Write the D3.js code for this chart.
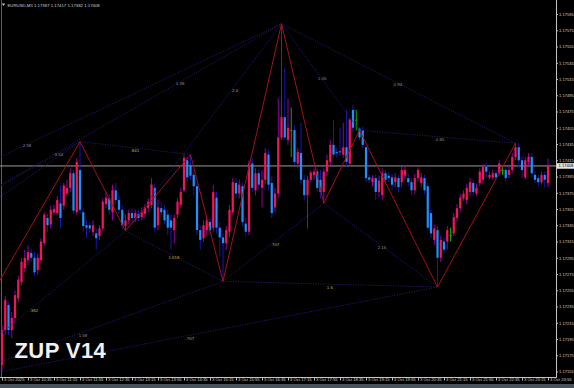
<!DOCTYPE html>
<html>
<head>
<meta charset="utf-8">
<script src="https://cdn.jsdelivr.net/npm/d3@7"></script>
<style>
  html, body { margin: 0; padding: 0; background: #000; overflow: hidden; }
</style>
</head>
<body>
<div id="chart"></div>
<script>
const width = 574;
const height = 388;

// EURUSD M5, 3 Oct 2025 09:55 .. 23:55 (bar index 0..168)
const opens = [
  1.17163,1.17206,1.17237,1.17206,1.17221,1.17245,1.17265,1.17282,1.17292,1.17301,
  1.17295,1.17280,1.17292,1.17313,1.17344,1.17336,1.17351,1.17350,1.17362,1.17359,
  1.17374,1.17381,1.17399,1.17351,1.17403,1.17351,1.17335,1.17335,1.17327,1.17325,
  1.17322,1.17331,1.17361,1.17368,1.17351,1.17378,1.17366,1.17354,1.17334,1.17341,
  1.17350,1.17344,1.17349,1.17345,1.17349,1.17356,1.17360,1.17381,1.17335,1.17356,
  1.17354,1.17348,1.17341,1.17329,1.17348,1.17360,1.17378,1.17415,1.17409,1.17397,
  1.17383,1.17329,1.17319,1.17329,1.17339,1.17332,1.17369,1.17332,1.17320,1.17313,
  1.17327,1.17351,1.17387,1.17374,1.17383,1.17337,1.17327,1.17411,1.17378,1.17399,
  1.17381,1.17391,1.17422,1.17387,1.17357,1.17374,1.17443,1.17468,1.17440,1.17452,
  1.17452,1.17411,1.17424,1.17391,1.17372,1.17391,1.17397,1.17401,1.17391,1.17376,
  1.17401,1.17413,1.17434,1.17425,1.17426,1.17422,1.17431,1.17411,1.17477,1.17465,
  1.17454,1.17452,1.17431,1.17394,1.17388,1.17393,1.17376,1.17372,1.17399,1.17396,
  1.17394,1.17388,1.17393,1.17388,1.17396,1.17393,1.17388,1.17378,1.17393,1.17387,
  1.17393,1.17383,1.17350,1.17317,1.17329,1.17295,1.17315,1.17315,1.17323,1.17325,
  1.17344,1.17356,1.17368,1.17366,1.17376,1.17387,1.17374,1.17387,1.17391,1.17407,
  1.17394,1.17394,1.17399,1.17399,1.17403,1.17403,1.17397,1.17403,1.17419,1.17431,
  1.17415,1.17394,1.17413,1.17419,1.17397,1.17393,1.17388,1.17397,1.17387
];
const highs = [
  1.17212,1.17248,1.17241,1.17228,1.17255,1.17273,1.17295,1.17305,1.17310,1.17306,
  1.17302,1.17300,1.17319,1.17351,1.17349,1.17359,1.17360,1.17371,1.17384,1.17387,
  1.17391,1.17405,1.17403,1.17418,1.17438,1.17356,1.17341,1.17339,1.17341,1.17331,
  1.17335,1.17368,1.17376,1.17373,1.17385,1.17387,1.17371,1.17359,1.17348,1.17354,
  1.17356,1.17354,1.17354,1.17357,1.17361,1.17368,1.17393,1.17386,1.17366,1.17364,
  1.17360,1.17354,1.17348,1.17348,1.17368,1.17381,1.17422,1.17419,1.17422,1.17403,
  1.17386,1.17334,1.17341,1.17348,1.17344,1.17385,1.17376,1.17339,1.17325,1.17334,
  1.17360,1.17393,1.17393,1.17391,1.17387,1.17344,1.17415,1.17418,1.17405,1.17403,
  1.17403,1.17430,1.17428,1.17396,1.17381,1.17491,1.17583,1.17529,1.17491,1.17480,
  1.17458,1.17430,1.17461,1.17397,1.17396,1.17403,1.17405,1.17405,1.17403,1.17405,
  1.17422,1.17440,1.17465,1.17430,1.17455,1.17461,1.17477,1.17467,1.17483,1.17477,
  1.17456,1.17456,1.17434,1.17397,1.17397,1.17397,1.17396,1.17405,1.17403,1.17401,
  1.17398,1.17399,1.17397,1.17408,1.17409,1.17398,1.17393,1.17398,1.17406,1.17399,
  1.17397,1.17387,1.17354,1.17336,1.17334,1.17322,1.17320,1.17334,1.17332,1.17350,
  1.17361,1.17374,1.17378,1.17386,1.17393,1.17391,1.17386,1.17405,1.17410,1.17412,
  1.17401,1.17403,1.17403,1.17415,1.17407,1.17407,1.17407,1.17424,1.17436,1.17436,
  1.17420,1.17419,1.17424,1.17424,1.17401,1.17397,1.17401,1.17401,1.17417
];
const lows = [
  1.17155,1.17200,1.17200,1.17196,1.17215,1.17240,1.17261,1.17277,1.17286,1.17290,
  1.17273,1.17274,1.17287,1.17310,1.17327,1.17331,1.17347,1.17347,1.17332,1.17354,
  1.17371,1.17376,1.17349,1.17348,1.17349,1.17327,1.17319,1.17327,1.17322,1.17305,
  1.17317,1.17328,1.17356,1.17348,1.17341,1.17360,1.17349,1.17331,1.17328,1.17336,
  1.17339,1.17339,1.17340,1.17341,1.17344,1.17351,1.17356,1.17327,1.17329,1.17347,
  1.17336,1.17323,1.17305,1.17313,1.17344,1.17356,1.17376,1.17388,1.17391,1.17372,
  1.17323,1.17305,1.17315,1.17323,1.17322,1.17327,1.17325,1.17296,1.17266,1.17305,
  1.17320,1.17348,1.17368,1.17368,1.17334,1.17322,1.17323,1.17376,1.17372,1.17378,
  1.17357,1.17386,1.17378,1.17344,1.17351,1.17369,1.17440,1.17440,1.17434,1.17419,
  1.17409,1.17405,1.17385,1.17366,1.17331,1.17388,1.17391,1.17376,1.17368,1.17362,
  1.17396,1.17409,1.17418,1.17418,1.17420,1.17418,1.17408,1.17408,1.17450,1.17452,
  1.17440,1.17430,1.17388,1.17387,1.17383,1.17366,1.17370,1.17366,1.17385,1.17388,
  1.17378,1.17382,1.17376,1.17382,1.17391,1.17383,1.17372,1.17373,1.17388,1.17382,
  1.17373,1.17329,1.17319,1.17311,1.17259,1.17290,1.17300,1.17305,1.17315,1.17322,
  1.17339,1.17351,1.17365,1.17361,1.17371,1.17371,1.17371,1.17383,1.17386,1.17393,
  1.17391,1.17391,1.17391,1.17396,1.17397,1.17388,1.17393,1.17399,1.17415,1.17405,
  1.17393,1.17391,1.17409,1.17394,1.17387,1.17383,1.17385,1.17382,1.17382
];
const closes = [
  1.17206,1.17243,1.17206,1.17221,1.17249,1.17268,1.17290,1.17295,1.17302,1.17295,
  1.17277,1.17295,1.17315,1.17348,1.17335,1.17354,1.17355,1.17366,1.17344,1.17384,
  1.17381,1.17399,1.17353,1.17413,1.17354,1.17334,1.17332,1.17331,1.17335,1.17319,
  1.17331,1.17364,1.17369,1.17354,1.17378,1.17366,1.17354,1.17335,1.17341,1.17350,
  1.17344,1.17350,1.17344,1.17351,1.17357,1.17364,1.17385,1.17332,1.17357,1.17351,
  1.17341,1.17332,1.17332,1.17344,1.17364,1.17376,1.17418,1.17394,1.17396,1.17383,
  1.17329,1.17317,1.17335,1.17341,1.17329,1.17376,1.17332,1.17320,1.17313,1.17329,
  1.17354,1.17388,1.17374,1.17385,1.17339,1.17327,1.17411,1.17381,1.17399,1.17385,
  1.17391,1.17424,1.17385,1.17350,1.17374,1.17443,1.17468,1.17443,1.17455,1.17452,
  1.17413,1.17425,1.17391,1.17372,1.17391,1.17400,1.17401,1.17381,1.17376,1.17401,
  1.17415,1.17434,1.17422,1.17424,1.17425,1.17431,1.17413,1.17465,1.17455,1.17465,
  1.17443,1.17434,1.17393,1.17391,1.17393,1.17376,1.17390,1.17399,1.17391,1.17393,
  1.17385,1.17394,1.17382,1.17403,1.17403,1.17388,1.17378,1.17393,1.17403,1.17394,
  1.17378,1.17332,1.17325,1.17331,1.17295,1.17317,1.17305,1.17329,1.17323,1.17345,
  1.17356,1.17369,1.17374,1.17381,1.17388,1.17376,1.17381,1.17401,1.17407,1.17401,
  1.17397,1.17399,1.17394,1.17411,1.17403,1.17393,1.17403,1.17419,1.17431,1.17415,
  1.17403,1.17415,1.17419,1.17399,1.17391,1.17388,1.17397,1.17391,1.17408
];

const priceTicks = [1.17155,1.17175,1.17195,1.17215,1.17235,1.17255,1.17275,1.17295,
  1.17315,1.17335,1.17355,1.17375,1.17395,1.17415,1.17435,1.17455,1.17475,1.17495,
  1.17515,1.17535,1.17555,1.17575,1.17595];
const timeIdx = [0,8,16,24,32,40,48,56,64,72,80,88,96,104,112,120,128,136,144,152,160,168];
const timeLabels = ["3 Oct 2025","3 Oct 10:35","3 Oct 11:15","3 Oct 11:55","3 Oct 12:35",
  "3 Oct 13:15","3 Oct 13:55","3 Oct 14:35","3 Oct 15:15","3 Oct 15:55","3 Oct 16:35",
  "3 Oct 17:15","3 Oct 17:55","3 Oct 18:35","3 Oct 19:15","3 Oct 19:55","3 Oct 20:35",
  "3 Oct 21:15","3 Oct 21:55","3 Oct 22:35","3 Oct 23:15","3 Oct 23:55"];

// ZUP pivots (P*) and earlier off-screen anchors (A*)
const pivotNames = ["P0","P1","P2","P3","P4","P5","P6","P7","P8","P9","A1","A2","A3"];
const pivotIdx = [-19, 24, 38, 58, 68, 86, 99, 110, 134, 158, -19, -19, -19];
const pivotPrice = [1.17140,1.17438,1.17328,1.17422,1.17266,1.17583,1.17362,1.17452,1.17259,1.17436,
  1.17384,1.17342,1.17319];
const zigzag = ["P0","P1","P2","P3","P4","P5","P6","P7","P8","P9"];
const patternLines = [["P0","P2"],["P0","P4"],["P0","P8"],["P1","P3"],["P2","P4"],["P4","P6"],
  ["P4","P8"],["P6","P8"],["P5","P7"],["P5","P9"],["P5","P2"],["P7","P9"],
  ["A1","P5"],["A2","P5"],["A2","P1"],["A3","P1"]];

const ratioText = ["2.58","3.54",".841","1.38","2.0","1.05","0.94","0.85",".382","1.618",".707","2.15","1.6","1.58",".707"];
const ratioIdx = [7.7,17.5,40.9,54.8,71.7,98.5,121.8,134.8,9.8,52.9,84,116.9,100.9,24.9,57.8];
const ratioPrice = [1.17433,1.17422,1.17427,1.17509,1.17501,1.17516,1.17508,1.17441,1.17230,1.17295,
  1.17311,1.17308,1.17259,1.17199,1.17196];
const ratioFib = [false,false,true,false,true,false,false,false,true,true,true,false,true,false,true];

const lastPrice = 1.17408;

const font = "'Liberation Sans', Arial, sans-serif";
const x = d3.scaleLinear().domain([0, 168]).range([2, 548]);
const y = d3.scaleLinear().domain([1.17155, 1.17595]).range([371.5, 14]);
const plotRight = 556, plotBottom = 377;

const svg = d3.select("#chart").append("svg")
    .attr("width", width)
    .attr("height", height)
    .style("display", "block")
    .style("background", "#000")
    .style("font-family", font);

svg.append("defs").append("clipPath").attr("id", "plot")
    .append("rect").attr("x", 0).attr("y", 0).attr("width", plotRight).attr("height", plotBottom);

const plot = svg.append("g").attr("clip-path", "url(#plot)");

// left border
plot.append("line")
    .attr("x1", 1.5).attr("x2", 1.5).attr("y1", 0).attr("y2", plotBottom)
    .attr("stroke", "#5e5e5e");

// current price line
plot.append("line")
    .attr("x1", 0).attr("x2", plotRight)
    .attr("y1", y(lastPrice)).attr("y2", y(lastPrice))
    .attr("stroke", "#9c9c9c").attr("stroke-width", 1);

// candles
const bars = d3.range(closes.length);
const colorOf = i => closes[i] > opens[i] ? "bull" : closes[i] < opens[i] ? "bear" : "doji";
const wickColor = { bull: "#9000a0", bear: "#1616b0", doji: "#00b000" };
const bodyColor = { bull: "#f5135c", bear: "#1e90ff", doji: "#00b000" };

plot.append("g").selectAll("line")
    .data(bars)
    .join("line")
    .attr("x1", i => x(i)).attr("x2", i => x(i))
    .attr("y1", i => y(highs[i])).attr("y2", i => y(lows[i]))
    .attr("stroke", i => wickColor[colorOf(i)])
    .attr("stroke-width", 1);

plot.append("g").selectAll("rect")
    .data(bars)
    .join("rect")
    .attr("x", i => x(i) - 1.1)
    .attr("width", 2.2)
    .attr("y", i => y(Math.max(opens[i], closes[i])))
    .attr("height", i => Math.max(1, Math.abs(y(opens[i]) - y(closes[i]))))
    .attr("fill", i => bodyColor[colorOf(i)]);

// ZUP pattern lines
const pt = name => {
    const k = pivotNames.indexOf(name);
    return [x(pivotIdx[k]), y(pivotPrice[k])];
};

plot.append("g").selectAll("line")
    .data(patternLines)
    .join("line")
    .attr("x1", d => pt(d[0])[0]).attr("y1", d => pt(d[0])[1])
    .attr("x2", d => pt(d[1])[0]).attr("y2", d => pt(d[1])[1])
    .attr("stroke", "#1c1c6a")
    .attr("stroke-width", 1)
    .attr("stroke-dasharray", "1.2,1.3");

// zigzag
plot.append("path")
    .attr("d", d3.line()(zigzag.map(pt)))
    .attr("fill", "none")
    .attr("stroke", "#a3101c")
    .attr("stroke-width", 1);

// ratio labels
plot.append("g").selectAll("text")
    .data(ratioText)
    .join("text")
    .attr("x", (d, i) => x(ratioIdx[i]))
    .attr("y", (d, i) => y(ratioPrice[i]) + 1.6)
    .attr("text-anchor", "middle")
    .attr("font-size", 4.4)
    .attr("fill", (d, i) => ratioFib[i] ? "#bcbc34" : "#8e8e8e")
    .text(d => d);

// axes
const yAxis = d3.axisRight(y)
    .tickValues(priceTicks)
    .tickFormat(d3.format(".5f"))
    .tickSize(1.5)
    .tickPadding(1);

const gy = svg.append("g")
    .attr("transform", `translate(${plotRight + 0.5},0)`)
    .call(yAxis);
gy.select(".domain").remove();
gy.selectAll(".tick line").attr("stroke", "#bdbdbd");
gy.selectAll(".tick text").attr("fill", "#cfcfcf").attr("font-size", 4.1).attr("font-family", font);

const xAxis = d3.axisBottom(x)
    .tickValues(timeIdx)
    .tickFormat((d, i) => timeLabels[i])
    .tickSize(3)
    .tickPadding(1);

const gx = svg.append("g")
    .attr("transform", `translate(0,${plotBottom + 0.5})`)
    .call(xAxis);
gx.select(".domain").remove();
gx.selectAll(".tick line").attr("stroke", "#bdbdbd");
gx.selectAll(".tick text")
    .attr("text-anchor", "start")
    .attr("x", 1.5)
    .attr("y", 1)
    .attr("fill", "#cfcfcf")
    .attr("font-size", 4.2)
    .attr("font-family", font);

svg.append("line")
    .attr("x1", plotRight + 0.5).attr("x2", plotRight + 0.5)
    .attr("y1", 0).attr("y2", plotBottom + 0.5)
    .attr("stroke", "#c4c4c4");
svg.append("line")
    .attr("x1", 0).attr("x2", plotRight + 0.5)
    .attr("y1", plotBottom + 0.5).attr("y2", plotBottom + 0.5)
    .attr("stroke", "#c4c4c4");

// current price tag
const tag = svg.append("g").attr("transform", `translate(${plotRight + 1},${y(lastPrice)})`);
tag.append("rect")
    .attr("x", 0).attr("y", -2.8).attr("width", 17).attr("height", 5.6)
    .attr("fill", "#e4e4e4");
tag.append("text")
    .attr("x", 1.5).attr("y", 1.5)
    .attr("font-size", 4.1)
    .attr("fill", "#000")
    .text(d3.format(".5f")(lastPrice));

// header
svg.append("path")
    .attr("d", "M2,3.5 L5,3.5 L3.5,6 Z")
    .attr("fill", "#d0d0d0");
svg.append("text")
    .attr("x", 7.5).attr("y", 7)
    .attr("font-size", 4.3)
    .attr("fill", "#cfcfcf")
    .text(`EURUSD,M5  ${d3.format(".5f")(opens[168])} ${d3.format(".5f")(highs[168])} ${d3.format(".5f")(lows[168])} ${d3.format(".5f")(closes[168])}`);

// watermark
svg.append("text")
    .attr("x", 14.5).attr("y", 358)
    .attr("font-size", 22)
    .attr("font-weight", "bold")
    .attr("letter-spacing", 0.4)
    .attr("fill", "#f0f0f0")
    .text("ZUP V14");

// bottom tab strip
svg.append("rect")
    .attr("x", 0).attr("y", 384).attr("width", width).attr("height", 4)
    .attr("fill", "#47525c");
</script>
</body>
</html>
